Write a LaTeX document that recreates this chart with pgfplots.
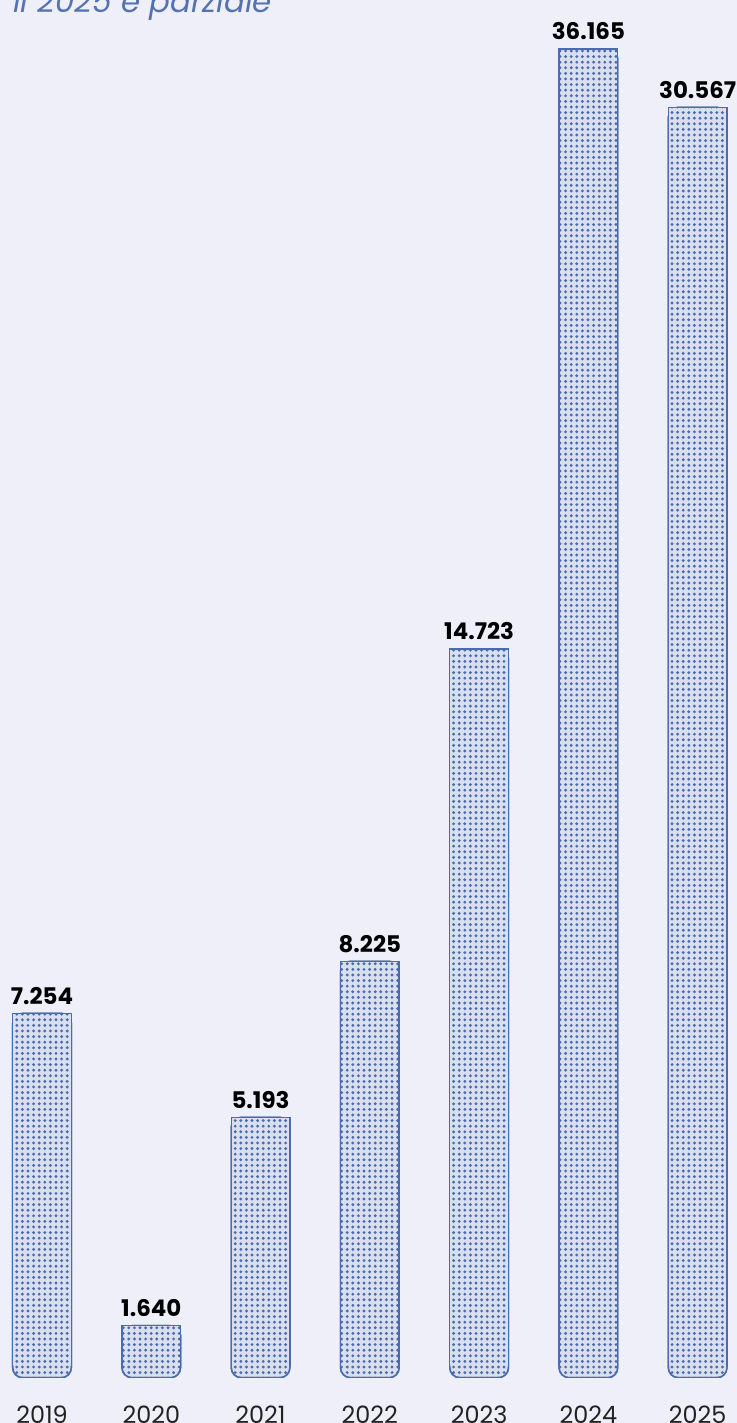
\documentclass[border=0pt]{standalone}
\usepackage{fontspec}
\setmainfont{Poppins}
\usepackage{pgfplots}
\pgfplotsset{compat=1.18}
\usepackage{pgfplotstable}
\usetikzlibrary{patterns.meta}

\definecolor{bg}{HTML}{EEEFF8}
\definecolor{barblue}{HTML}{4A6BAE}
\definecolor{titleblue}{HTML}{5572B0}
\definecolor{yeargray}{HTML}{222222}

% h = drawn bar height, lab = printed value
\pgfplotstableread{
x h lab r t
0 364.4 7.254 12 352.4
1 52.0 1.640 12 40.0
2 260.4 5.193 12 248.4
3 416.4 8.225 12 404.4
4 728.7 14.723 12 716.7
5 1328.7 36.165 12 1316.7
6 1270.4 30.567 12 1258.4
}\bars

\pgfplotsset{
  basestyle/.style={
    scale only axis, width=737bp, height=1377.7bp,
    at={(0bp,45.3bp)}, anchor=south west,
    xmin=-0.3843, xmax=6.360, ymin=0, ymax=1377.7,
    bar width=58.7bp,
  },
  dotfill/.style={fill=barblue!12!bg, postaction={pattern={Dots[distance=5.6bp,radius=1.6bp]}, pattern color=barblue}},
}

\begin{document}
\begin{tikzpicture}
\fill[bg] (0,0) rectangle (737bp,1423bp);
\useasboundingbox (0,0) rectangle (737bp,1423bp);
\node[anchor=base west, inner sep=0pt, font=\fontsize{31}{33}\selectfont\itshape, text=titleblue] at (13bp,1410.7bp) {Il 2025 è parziale};

\begin{axis}[basestyle, ybar, bar shift=0pt,
  axis line style={draw=none}, tick style={draw=none}, ytick=\empty,
  xtick={0,...,6}, xticklabels={2019,2020,2021,2022,2023,2024,2025},
  xticklabel style={anchor=base, inner sep=0pt, yshift=-41.5bp, font=\fontsize{24}{26}\selectfont, text=yeargray},
]
\addplot[draw=barblue, line width=1.4bp, dotfill, rounded corners=10bp,
  nodes near coords, point meta=explicit symbolic,
  nodes near coords style={anchor=base, inner sep=0pt, yshift=9bp, font=\fontsize{23}{25}\selectfont\bfseries, text=black}]
  table[x=x, y=h, meta=lab] {\bars};
\end{axis}

\begin{axis}[basestyle, ybar stacked, hide axis]
\addplot[draw=none, fill=none] table[x=x, y=r] {\bars};
\addplot[draw=barblue, line width=1.4bp, dash pattern=on 0bp off 58.7bp on 5000bp, dotfill] table[x=x, y=t] {\bars};
\end{axis}
\end{tikzpicture}
\end{document}
